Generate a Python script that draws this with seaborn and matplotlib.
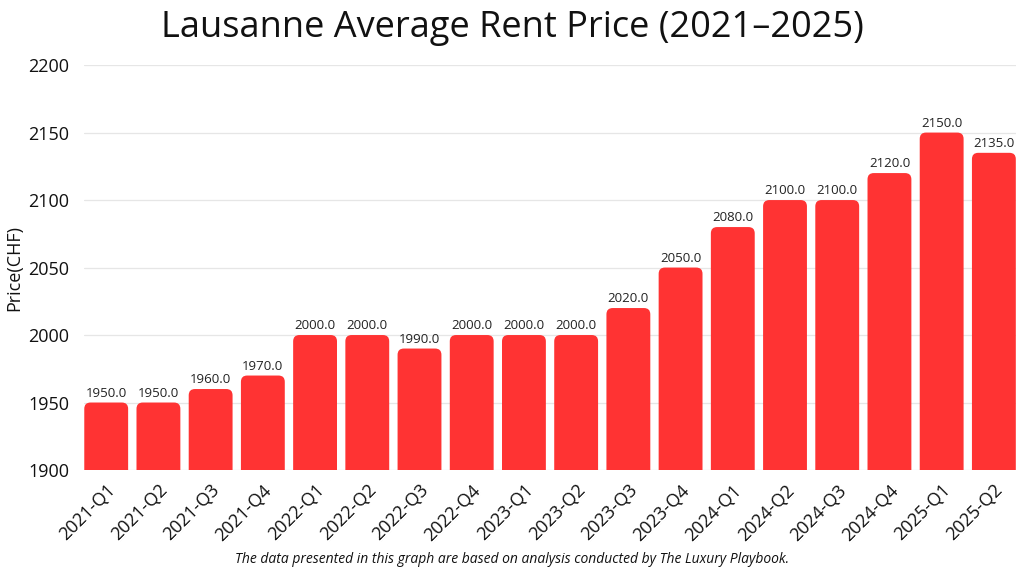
import matplotlib
matplotlib.use("Agg")
import matplotlib.pyplot as plt
import seaborn as sns
from matplotlib.patches import FancyBboxPatch

quarters = ["2021-Q1", "2021-Q2", "2021-Q3", "2021-Q4",
            "2022-Q1", "2022-Q2", "2022-Q3", "2022-Q4",
            "2023-Q1", "2023-Q2", "2023-Q3", "2023-Q4",
            "2024-Q1", "2024-Q2", "2024-Q3", "2024-Q4",
            "2025-Q1", "2025-Q2"]
prices = [1950, 1950, 1960, 1970,
          2000, 2000, 1990, 2000,
          2000, 2000, 2020, 2050,
          2080, 2100, 2100, 2120,
          2150, 2135]

sns.set_theme(style="whitegrid")
plt.rcParams["font.family"] = ["Open Sans", "DejaVu Sans"]

fig, ax = plt.subplots(figsize=(10.24, 5.76), dpi=100)
fig.subplots_adjust(left=0.0823, right=0.992, top=0.887, bottom=0.184)

sns.barplot(x=quarters, y=prices, color="#FF3333", saturation=1, width=0.84, ax=ax)
ax.set_ylim(1900, 2200)
ax.set_xlim(-0.42, len(quarters) - 0.58)

# swap plain rectangles for ones with rounded tops
fig.canvas.draw()
bbox = ax.get_window_extent()
px_x = bbox.width / (ax.get_xlim()[1] - ax.get_xlim()[0])
px_y = bbox.height / (ax.get_ylim()[1] - ax.get_ylim()[0])
aspect = px_x / px_y
for bar in list(ax.patches):
    x, y = bar.get_x(), bar.get_y()
    w, h = bar.get_width(), bar.get_height()
    rounded = FancyBboxPatch((x, y), w, h,
                             boxstyle="round,pad=0,rounding_size=0.12",
                             mutation_aspect=aspect,
                             facecolor="#FF3333", edgecolor="none", zorder=2)
    bar.remove()
    ax.add_patch(rounded)

for i, v in enumerate(prices):
    ax.text(i, v + 2, f"{v:.1f}", ha="center", va="bottom", fontsize=9.5, color="#222222")

ax.set_yticks(range(1900, 2201, 50))
ax.grid(axis="y", color="#e6e6e6", linewidth=0.9)
ax.grid(axis="x", visible=False)
ax.set_axisbelow(True)
for s in ax.spines.values():
    s.set_visible(False)

ax.tick_params(axis="y", labelsize=13, pad=5, colors="#111111")
ax.tick_params(axis="x", labelsize=13, pad=2, colors="#111111")
plt.setp(ax.get_xticklabels(), rotation=45, ha="right", rotation_mode="anchor")
ax.set_ylabel("Price(CHF)", fontsize=13, color="#111111", labelpad=0)
ax.yaxis.set_label_coords(-0.066, 0.5)

fig.suptitle("Lausanne Average Rent Price (2021–2025)", fontsize=26, y=0.982, color="#111111")
fig.text(0.5, 0.022, "The data presented in this graph are based on analysis conducted by The Luxury Playbook.",
         ha="center", fontsize=10, style="italic", color="#111111")

fig.savefig("out.png", dpi=100)
